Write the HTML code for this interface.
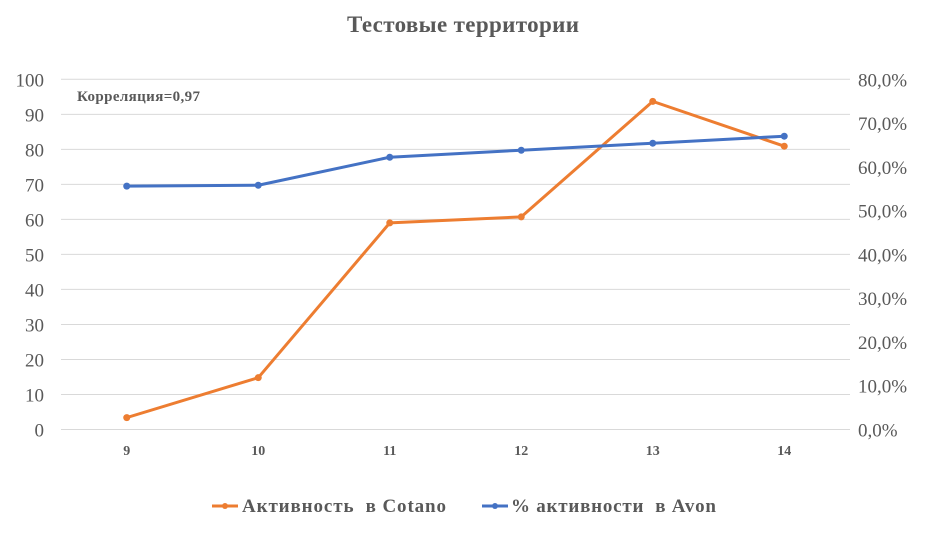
<!DOCTYPE html>
<html><head><meta charset="utf-8">
<style>
body{margin:0;background:#fff;width:926px;height:529px;overflow:hidden;}
svg text{font-family:"Liberation Serif","Noto Serif CJK SC",serif;}
</style></head>
<body>
<svg id="chart" width="926" height="529">
<text x="463" y="32" text-anchor="middle" font-size="23" font-weight="bold" fill="#595959" textLength="232">Тестовые территории</text>
<text x="77" y="101" font-size="15" font-weight="bold" fill="#595959" textLength="123">Корреляция=0,97</text>
<g id="grid"></g><g id="series"></g>
<g>
<line x1="212" y1="506" x2="238" y2="506" stroke="#ED7D31" stroke-width="3"/><circle cx="225" cy="506" r="3" fill="#ED7D31"/>
<text x="242" y="512" font-size="19" font-weight="bold" fill="#595959" textLength="204" xml:space="preserve" style="white-space:pre">Активность  в Cotano</text>
<line x1="482" y1="506" x2="508" y2="506" stroke="#4472C4" stroke-width="3"/><circle cx="495" cy="506" r="3" fill="#4472C4"/>
<text x="511" y="512" font-size="19" font-weight="bold" fill="#595959" textLength="205" xml:space="preserve" style="white-space:pre">% активности  в Avon</text>
</g>
</svg>
<script>
const categories=["9","10","11","12","13","14"];
const cotanoValues=[3.4,14.8,59,60.7,93.7,80.9];
const avonValues=[55.6,55.8,62.2,63.8,65.4,67.0];
const leftTicks=[0,10,20,30,40,50,60,70,80,90,100];
const rightTicks=[0,10,20,30,40,50,60,70,80];
const NS="http://www.w3.org/2000/svg";
const X0=61,X1=850,Y0=429.5,Y1=79.3;
const xs=i=>X0+(X1-X0)*(i+0.5)/categories.length;
const yl=v=>Y0-(Y0-Y1)*v/100;
const yr=v=>Y0-(Y0-Y1)*v/80;
function mk(tag,a,p){const e=document.createElementNS(NS,tag);for(const k in a)e.setAttribute(k,a[k]);p.appendChild(e);return e;}
const grid=document.getElementById('grid'),ser=document.getElementById('series');
leftTicks.forEach(t=>{
 const l=mk('line',{x1:X0,x2:X1,y1:yl(t),y2:yl(t),stroke:'#d9d9d9','stroke-width':1},grid);
 
 
 const tx=mk('text',{x:44,y:yl(t)+7,'text-anchor':'end','font-size':19,fill:'#595959'},grid);tx.textContent=t;
 
 
});
rightTicks.forEach(t=>{
 const tx=mk('text',{x:858,y:yr(t)+7,'font-size':19,fill:'#595959'},grid);tx.textContent=t.toFixed(1).replace('.',',')+'%';
 
 
});
categories.forEach((c,i)=>{
 const tx=mk('text',{x:xs(i),y:455,'text-anchor':'middle','font-size':14,'font-weight':'bold',fill:'#595959'},grid);tx.textContent=c;
 
 
});
function series(vals,f,color,name){
 const p=mk('polyline',{points:vals.map((v,i)=>xs(i)+','+f(v)).join(' '),fill:'none',stroke:color,'stroke-width':3,'stroke-linejoin':'round'},ser);
 
 
 vals.forEach((v,i)=>{const c=mk('circle',{cx:xs(i),cy:f(v),r:3.5,fill:color},ser);
 
 });
}
series(cotanoValues,yl,'#ED7D31','cotano');
series(avonValues,yr,'#4472C4','avon');
</script>
</body></html>
